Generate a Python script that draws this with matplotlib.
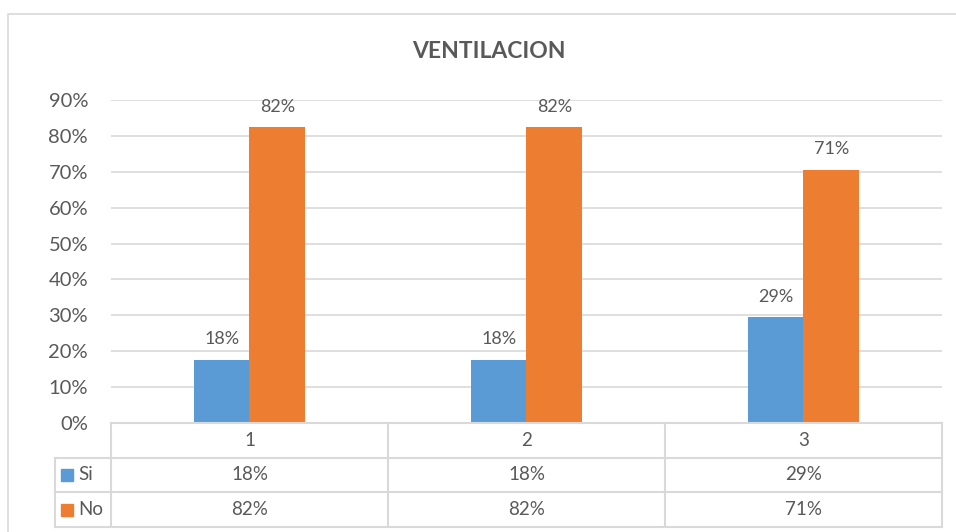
import matplotlib

matplotlib.use("Agg")
import matplotlib.pyplot as plt
from matplotlib.patches import Rectangle
from matplotlib.ticker import PercentFormatter

plt.rcParams["font.family"] = ["Lato", "DejaVu Sans"]

TITLE = "VENTILACION"
CATEGORIES = ["1", "2", "3"]
SERIES = ["Si", "No"]
SI_VALUES = [0.176, 0.176, 0.294]
NO_VALUES = [0.824, 0.824, 0.706]
Y_TICKS = [0.0, 0.1, 0.2, 0.3, 0.4, 0.5, 0.6, 0.7, 0.8, 0.9]

COL_SI = "#5B9BD5"
COL_NO = "#ED7D31"
TXT = "#595959"
GRID = "#D9D9D9"

W, H = 956, 532
fig = plt.figure(figsize=(W / 100, H / 100), dpi=100)

# borde del area del grafico (recortado a la derecha y abajo)
fig.patches.append(Rectangle((8 / W, -0.1), 1.2, 1 - 14 / H + 0.1,
                             transform=fig.transFigure, fill=False,
                             edgecolor=GRID, lw=1.2))

ax = fig.add_axes([111 / W, 1 - 423 / H, 831 / W, 323 / H])
x = list(range(len(CATEGORIES)))
bw = 0.2
bars_si = ax.bar([i - bw / 2 for i in x], SI_VALUES, bw, color=COL_SI, zorder=2)
bars_no = ax.bar([i + bw / 2 for i in x], NO_VALUES, bw, color=COL_NO, zorder=2)

for bars, vals in ((bars_si, SI_VALUES), (bars_no, NO_VALUES)):
    for b, v in zip(bars, vals):
        ax.annotate(f"{v:.0%}", (b.get_x() + b.get_width() / 2, v),
                    xytext=(0, 9), textcoords="offset points",
                    ha="center", va="bottom", fontsize=13, color=TXT)

ax.set_xlim(-0.5, len(CATEGORIES) - 0.5)
ax.set_ylim(0, 0.9)
ax.set_yticks(Y_TICKS)
ax.yaxis.set_major_formatter(PercentFormatter(1.0, decimals=0))
ax.tick_params(axis="y", length=0, pad=16.5, labelsize=14.5, labelcolor=TXT)
ax.set_xticks([])
ax.grid(axis="y", color=GRID, lw=1.2, zorder=0)
for s in ax.spines.values():
    s.set_visible(False)

fig.text(489 / W, 1 - 52 / H, TITLE, ha="center", va="center",
         fontsize=16.5, fontweight="bold", color=TXT)

# tabla de datos debajo del eje
tab = fig.add_axes([111 / W, 1 - 527 / H, 831 / W, 104 / H], sharex=ax)
tab.set_ylim(3, 0)
tab.axis("off")
left = -0.5 - 56 / 277
right = len(CATEGORIES) - 0.5
lk = dict(color=GRID, lw=1.5, clip_on=False)
tab.plot([-0.5, right], [0, 0], **lk)
for r in (1, 2, 3):
    tab.plot([left, right], [r, r], **lk)
tab.plot([left, left], [1, 3], **lk)
for c in range(len(CATEGORIES) + 1):
    tab.plot([c - 0.5, c - 0.5], [0, 3], **lk)

for i, cat in enumerate(CATEGORIES):
    tab.text(i, 0.5, cat, ha="center", va="center", fontsize=13.5, color=TXT)
rows = [(SERIES[0], SI_VALUES, COL_SI), (SERIES[1], NO_VALUES, COL_NO)]
for r, (name, vals, col) in enumerate(rows, start=1):
    tab.plot([left + 0.045], [r + 0.5], marker="s", ms=8, color=col,
             ls="none", clip_on=False)
    tab.text(left + 0.085, r + 0.5, name, ha="left", va="center",
             fontsize=13.5, color=TXT)
    for i, v in enumerate(vals):
        tab.text(i, r + 0.5, f"{v:.0%}", ha="center", va="center",
                 fontsize=13.5, color=TXT)

fig.savefig("out.png", dpi=100)
